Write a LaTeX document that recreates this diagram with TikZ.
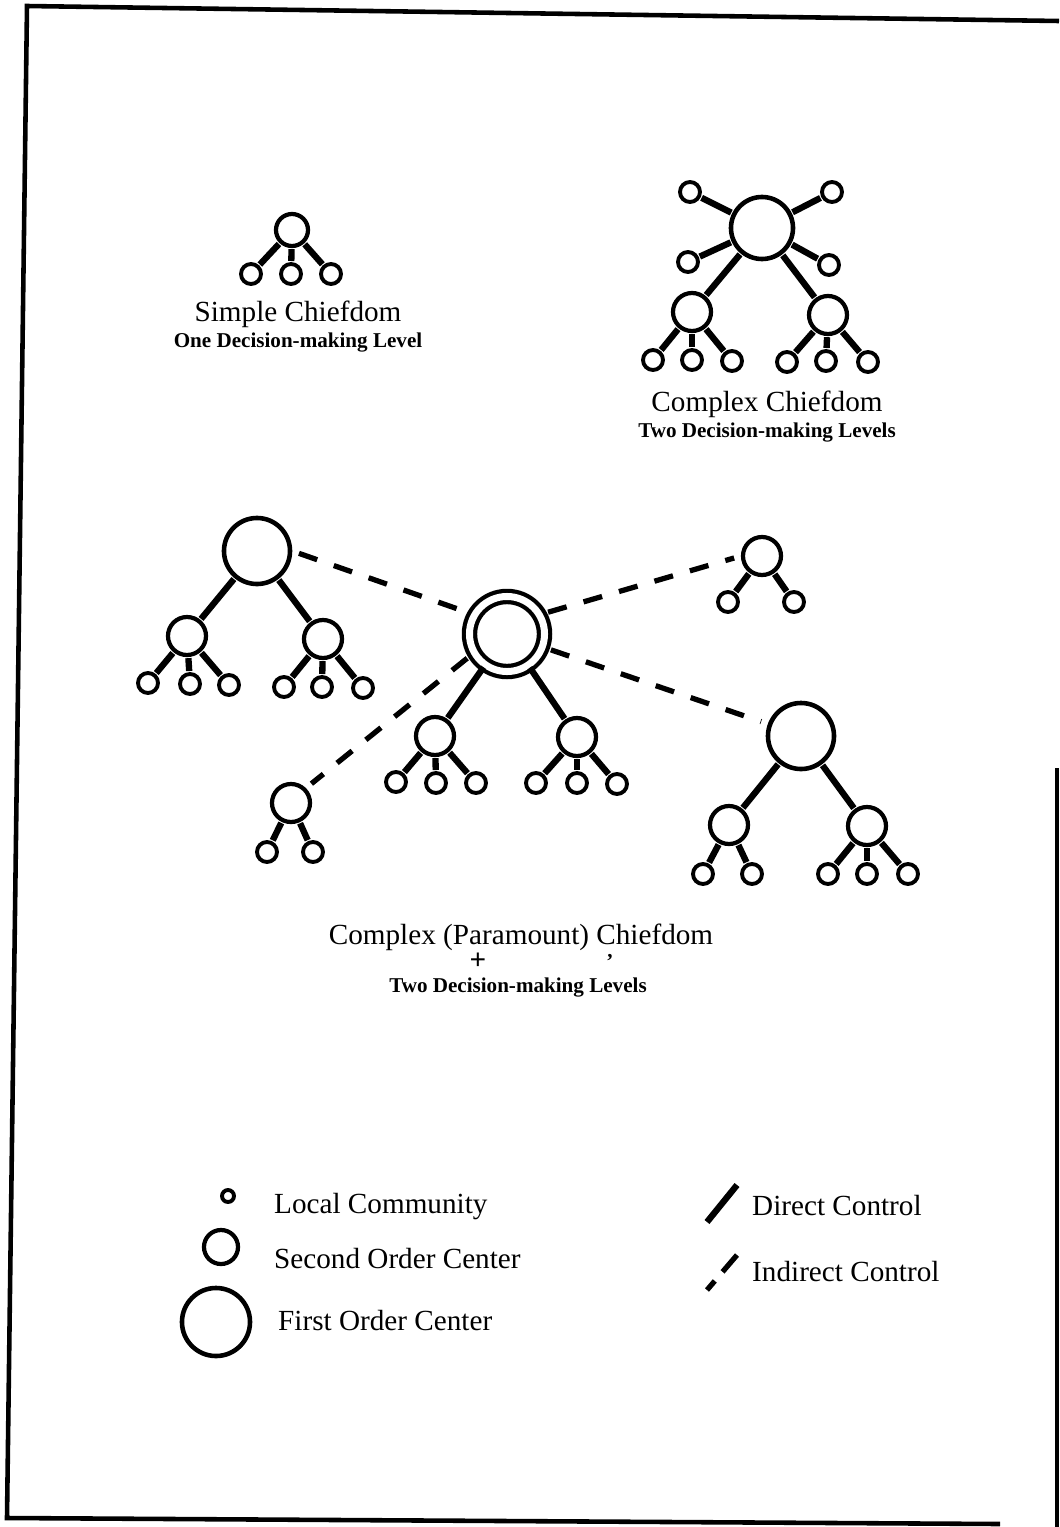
\documentclass[tikz,border=0pt]{standalone}
\usepackage{fontspec}
\setmainfont{Liberation Serif}
\usepackage{tikz}
\usetikzlibrary{positioning}
\usetikzlibrary{backgrounds}

\newcommand{\titlefont}{\fontsize{8.3}{10}\selectfont}
\newcommand{\subfont}{\fontsize{6}{7}\selectfont\bfseries}

\begin{document}
\begin{tikzpicture}[x=0.01cm,y=-0.01cm,
		lc/.style={circle,draw,line width=1.1pt,fill=white,inner sep=0pt,minimum size=0.2cm},
		soc/.style={circle,draw,line width=1.2pt,fill=white,inner sep=0pt,minimum size=0.38cm},
		foc/.style={circle,draw,line width=1.3pt,fill=white,inner sep=0pt,minimum size=0.66cm},
		direct/.style={line width=1.8pt,shorten >=0.3pt,shorten <=0.3pt},
		indirect/.style={line width=1.5pt,dash pattern=on 5.5pt off 5pt,shorten >=2pt,shorten <=2pt},
		lbl/.style={inner sep=1pt,font=\titlefont},
		sublbl/.style={inner sep=1pt,font=\subfont}]
		\useasboundingbox (0,0) rectangle (1059,1527);
		% frame
		\draw[line width=1.3pt] (1059,21) -- (27,6) -- (7,1518) -- (1000,1524);
		\draw[line width=1.3pt] (1057,768) -- (1057,1527);

		% simple chiefdom
		\node[soc,minimum size=0.32cm] at (292,230) (s0) {};
		\node[lc] at (251,274) (s1) {};
		\node[lc] at (291,274) (s2) {};
		\node[lc] at (331,274) (s3) {};
		\node[lbl] at (298,314) (st) {Simple Chiefdom};
		\node[sublbl,below = -0.03cm of st] (ss) {One Decision-making Level};
		\foreach \n in {s1,s2,s3}
			\draw[direct] (s0) -- (\n);

		% complex chiefdom
		\node[foc,minimum size=0.62cm] at (762,228) (c0) {};
		\node[lc] at (690,192) (c1) {};
		\node[lc] at (832,192) (c2) {};
		\node[lc] at (688,262) (c3) {};
		\node[lc] at (829,265) (c4) {};
		\node[soc] at (692,312) (c5) {};
		\node[soc] at (828,315) (c6) {};
		\node[lc] at (653,360) (c7) {};
		\node[lc] at (692,360) (c8) {};
		\node[lc] at (732,361) (c9) {};
		\node[lc] at (787,362) (c10) {};
		\node[lc] at (826,361) (c11) {};
		\node[lc] at (868,362) (c12) {};
		\node[lbl] at (767,404) (ct) {Complex Chiefdom};
		\node[sublbl,below = -0.03cm of ct] (cs) {Two Decision-making Levels};
		\foreach \n in {c1,c2,c3,c4,c5,c6}
			\draw[direct] (c0) -- (\n);
		\foreach \n in {c7,c8,c9}
			\draw[direct] (c5) -- (\n);
		\foreach \n in {c10,c11,c12}
			\draw[direct] (c6) -- (\n);

		% complex (paramount) chiefdom
		\node[circle,draw,double,double distance=0.07cm,line width=1.2pt,fill=white,inner sep=0pt,minimum size=0.75cm] at (507,634) (p0) {};
		\node[soc] at (435,736) (p1) {};
		\node[soc] at (577,737) (p2) {};
		\node[lc] at (396,782) (p3) {};
		\node[lc] at (436,783) (p4) {};
		\node[lc] at (476,783) (p5) {};
		\node[lc] at (536,783) (p6) {};
		\node[lc] at (577,783) (p7) {};
		\node[lc] at (617,784) (p8) {};
		\draw[direct] (p0) -- (p1);
		\draw[direct] (p0) -- (p2);
		\foreach \n in {p3,p4,p5}
			\draw[direct] (p1) -- (\n);
		\foreach \n in {p6,p7,p8}
			\draw[direct] (p2) -- (\n);

		\node[foc] at (257,551) (a0) {};
		\node[soc] at (187,636) (a1) {};
		\node[soc] at (323,639) (a2) {};
		\node[lc] at (148,683) (a3) {};
		\node[lc] at (190,684) (a4) {};
		\node[lc] at (229,685) (a5) {};
		\node[lc] at (284,687) (a6) {};
		\node[lc] at (322,687) (a7) {};
		\node[lc] at (363,688) (a8) {};
		\draw[direct] (a0) -- (a1);
		\draw[direct] (a0) -- (a2);
		\foreach \n in {a3,a4,a5}
			\draw[direct] (a1) -- (\n);
		\foreach \n in {a6,a7,a8}
			\draw[direct] (a2) -- (\n);

		\node[soc] at (762,556) (b0) {};
		\node[lc] at (728,602) (b1) {};
		\node[lc] at (794,602) (b2) {};
		\draw[direct] (b0) -- (b1);
		\draw[direct] (b0) -- (b2);

		\node[foc] at (801,736) (d0) {};
		\node[soc] at (729,825) (d1) {};
		\node[soc] at (867,826) (d2) {};
		\node[lc] at (703,874) (d3) {};
		\node[lc] at (752,874) (d4) {};
		\node[lc] at (828,874) (d5) {};
		\node[lc] at (867,874) (d6) {};
		\node[lc] at (908,874) (d7) {};
		\draw[direct] (d0) -- (d1);
		\draw[direct] (d0) -- (d2);
		\foreach \n in {d3,d4}
			\draw[direct] (d1) -- (\n);
		\foreach \n in {d5,d6,d7}
			\draw[direct] (d2) -- (\n);

		\node[soc] at (291,803) (e0) {};
		\node[lc] at (267,852) (e1) {};
		\node[lc] at (313,852) (e2) {};
		\draw[direct] (e0) -- (e1);
		\draw[direct] (e0) -- (e2);

		\draw[indirect] (a0.east) -- (p0.150);
		\draw[indirect] (p0.30) -- (b0.west);
		\draw[indirect] (p0.-20) -- (d0.160);
		\draw[indirect] (p0.-150) -- (e0.45);

		\node[lbl] at (521,937) (pt) {Complex (Paramount) Chiefdom};
		\node[lbl,font=\titlefont\bfseries] at (478,961) (plus) {+};
		\node[sublbl] at (610,958) (tick) {,};
		\node[sublbl] at (518,987) (ps) {Two Decision-making Levels};

		% legend
		\node[lc,minimum size=0.12cm] at (228,1196) (l1) {};
		\node[soc,minimum size=0.34cm] at (221,1247) (l2) {};
		\node[foc,minimum size=0.68cm] at (216,1322) (l3) {};
		\node[lbl,anchor=west] at (270,1207) (l1t) {Local Community};
		\node[lbl,anchor=west] at (270,1259) (l2t) {Second Order Center};
		\node[lbl,anchor=west] at (274,1320) (l3t) {First Order Center};
		\coordinate (k1) at (707,1222);
		\coordinate (k2) at (737,1185);
		\coordinate (k3) at (707,1290);
		\coordinate (k4) at (737,1255);
		\draw[direct,shorten >=0pt,shorten <=0pt] (k1) -- (k2);
		\draw[indirect,dash pattern=on 3.4pt off 3.4pt on 6.5pt off 10pt,shorten >=0pt,shorten <=0pt] (k3) -- (k4);
		\node[lbl,anchor=west] at (748,1206) (k1t) {Direct Control};
		\node[lbl,anchor=west] at (748,1272) (k3t) {Indirect Control};
\end{tikzpicture}
\end{document}
